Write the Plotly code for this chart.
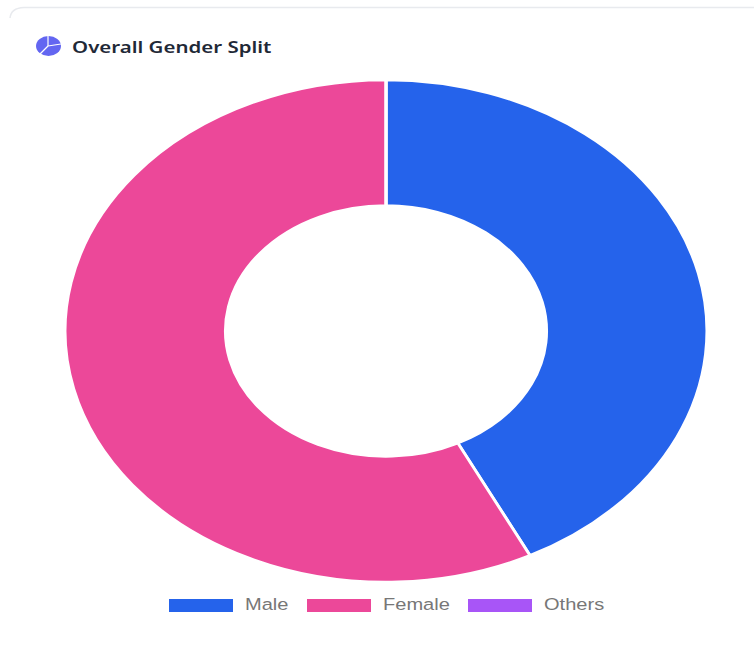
import plotly.graph_objects as go

W, H = 754, 660
title = "Overall Gender Split"
labels = ["Male", "Female", "Others"]
values = [42.6, 57.4, 0]
colors = ["#2563eb", "#ec4899", "#a855f7"]

cx, cy, r = 386, 331, 251
sx = 321 / 251
swatch_x = [169, 307, 468]
text_x = [243, 381, 542]


def px(x):
    return x / W


def py(y):
    return 1 - y / H


fig = go.Figure(go.Pie(
    labels=labels, values=values, sort=False, direction="clockwise", rotation=0,
    hole=0.5, textinfo="none", showlegend=False,
    marker=dict(colors=colors, line=dict(color="#ffffff", width=2.4)),
    domain=dict(x=[px(cx - r), px(cx + r)], y=[py(cy + r), py(cy - r)]),
))

shapes = [
    dict(type="path", xref="paper", yref="paper",
         path=f"M {px(10)} {py(18)} Q {px(11)} {py(8)} {px(24)} {py(7.5)} L {px(754)} {py(7.5)}",
         line=dict(color="#e8eaee", width=1.5)),
    dict(type="circle", xref="paper", yref="paper", x0=px(36), x1=px(61), y0=py(56), y1=py(36),
         fillcolor="#6366f1", line=dict(width=0)),
]
for (a, b) in [((48, 46), (48, 36)), ((48, 46), (61, 44)), ((48, 46), (40, 54))]:
    shapes.append(dict(type="line", xref="paper", yref="paper", x0=px(a[0]), y0=py(a[1]),
                       x1=px(b[0]), y1=py(b[1]), line=dict(color="#ffffff", width=1.2)))

annotations = [dict(text=title, x=px(70), y=py(47), xref="paper", yref="paper", xanchor="left",
                    yanchor="middle", showarrow=False,
                    font=dict(family="Noto Sans", size=16.5, color="#1f2937", weight=600))]
for lab, col, xs, xt in zip(labels, colors, swatch_x, text_x):
    shapes.append(dict(type="rect", xref="paper", yref="paper", x0=px(xs), x1=px(xs + 64),
                       y0=py(612), y1=py(599), fillcolor=col, line=dict(width=0)))
    annotations.append(dict(text=lab, x=px(xt), y=py(604), xref="paper", yref="paper", xanchor="left",
                            yanchor="middle", showarrow=False,
                            font=dict(family="Liberation Sans", size=17, color="#777777")))

fig.update_layout(width=W, height=H, margin=dict(l=0, r=0, t=0, b=0), paper_bgcolor="#ffffff",
                  shapes=shapes, annotations=annotations, showlegend=False)

post = f"""
document.body.style.margin = '0';
var layer = document.querySelector('.pielayer');
if (layer) layer.setAttribute('transform',
  'translate({cx},{cy}) scale({sx},1) translate({-cx},{-cy})');
document.querySelectorAll('.annotation text').forEach(function (t, i) {{
  var x = t.getBBox().x, s = i === 0 ? 1.24 : 1.18;
  t.setAttribute('transform', 'translate(' + x + ',0) scale(' + s + ',1) translate(' + (-x) + ',0)');
}});
"""
fig.write_html("out.html", post_script=post, config=dict(displayModeBar=False))
